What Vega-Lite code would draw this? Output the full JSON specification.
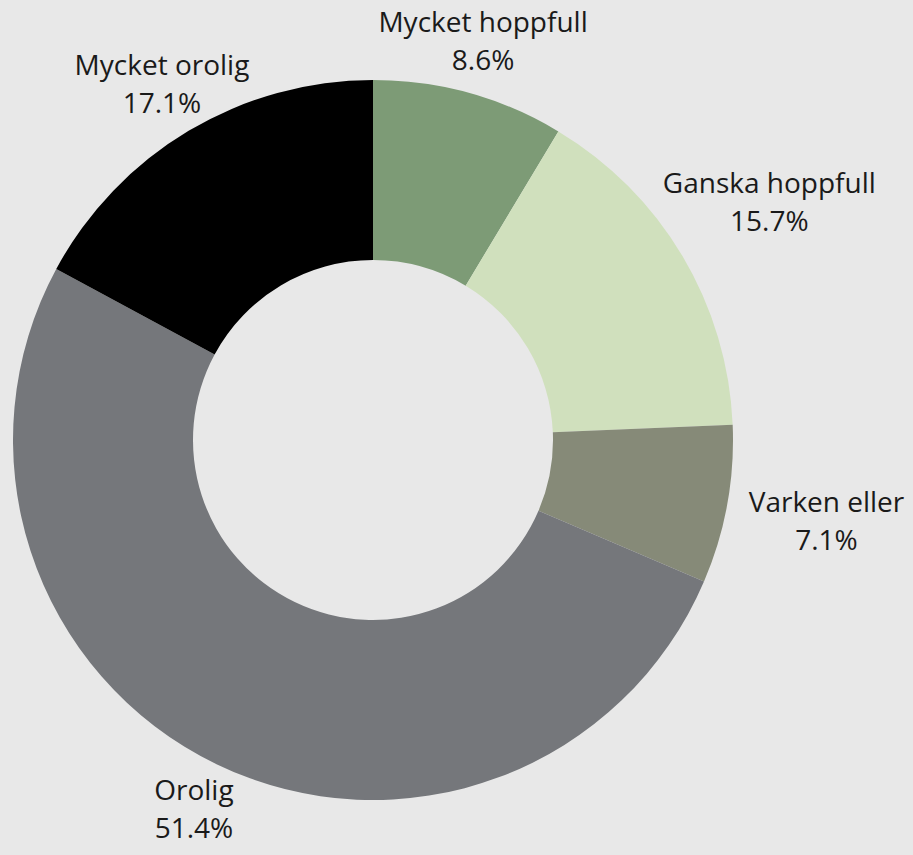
{
  "$schema": "https://vega.github.io/schema/vega-lite/v6.json",
  "width": 746,
  "height": 830,
  "autosize": {"type": "none"},
  "padding": {"left": 0, "right": 167, "top": 25, "bottom": 0},
  "background": "#e8e8e8",
  "config": {"view": {"stroke": null}, "font": "Open Sans"},
  "data": {
    "values": [
      {"category": "Mycket hoppfull", "pct": 8.6, "rank": 1},
      {"category": "Ganska hoppfull", "pct": 15.7, "rank": 2},
      {"category": "Varken eller", "pct": 7.1, "rank": 3},
      {"category": "Orolig", "pct": 51.4, "rank": 4},
      {"category": "Mycket orolig", "pct": 17.1, "rank": 5}
    ]
  },
  "transform": [
    {"calculate": "datum.category + '\\n' + format(datum.pct, '.1f') + '%'", "as": "label"},
    {"calculate": "datum.category == 'Ganska hoppfull' || datum.category == 'Varken eller' ? 'side' : 'top'", "as": "side"}
  ],
  "encoding": {
    "theta": {"field": "pct", "type": "quantitative", "stack": true},
    "order": {"field": "rank", "type": "quantitative"},
    "color": {
      "field": "category",
      "type": "nominal",
      "legend": null,
      "scale": {
        "domain": ["Mycket hoppfull", "Ganska hoppfull", "Varken eller", "Orolig", "Mycket orolig"],
        "range": ["#7d9b76", "#d0e0bd", "#868a78", "#75777b", "#000000"]
      }
    }
  },
  "layer": [
    {"mark": {"type": "arc", "outerRadius": 360, "innerRadius": 180}},
    {
      "mark": {"type": "text", "radius": 412, "dy": -19, "fontSize": 28, "lineBreak": "\n", "lineHeight": 38, "align": "center", "baseline": "middle"},
      "encoding": {
        "text": {"field": "label"},
        "color": {"value": "#1a1a1a"},
        "opacity": {"condition": {"test": "datum.side == 'top'", "value": 1}, "value": 0}
      }
    },
    {
      "mark": {"type": "text", "radius": 461, "dy": -19, "fontSize": 28, "lineBreak": "\n", "lineHeight": 38, "align": "center", "baseline": "middle"},
      "encoding": {
        "text": {"field": "label"},
        "color": {"value": "#1a1a1a"},
        "opacity": {"condition": {"test": "datum.side == 'side'", "value": 1}, "value": 0}
      }
    }
  ]
}
